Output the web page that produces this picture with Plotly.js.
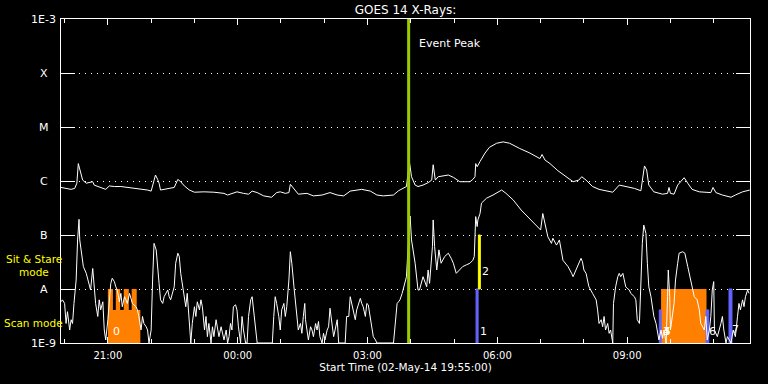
<!DOCTYPE html>
<html>
<head>
<meta charset="utf-8">
<script src="https://cdn.plot.ly/plotly-3.0.1.min.js"></script>
<style>html,body{margin:0;padding:0;background:#000;}#chart{width:768px;height:384px;}</style>
</head>
<body>
<div id="chart"></div>
<script>
// ---- data (time = minutes after start, flux in W/m^2) ----
const START = '2014-05-02 19:55:00';
const END = '2014-05-03 11:50:18';
const EVENT_PEAK = '2014-05-03 03:57:00';

// GOES 14 long channel (1-8 A)
const longT = [0,7,14,19,22,24,27,30,35,41,44,46,55,62,67,74,83,92,106,120,125,128,131,134,136,138,145,157,162,166,171,178,185,198,212,226,231,
239,244,253,260,265,272,281,292,299,304,311,316,318,323,329,341,350,362,373,383,392,401,410,417,429,438,447,461,468,475,479,
483,486,491,495,502,509,514,516,519,523,537,544,553,567,571,574,575,577,581,588,594,604,613,622,636,650,664,667,671,678,689,701,710,
718,722,728,737,746,755,765,774,783,795,804,806,809,812,815,822,834,841,843,845,850,855,859,864,869,875,885,901,904,908,917,929,935,945,955];
const longF = [7.6e-7,7.3e-7,7.0e-7,7.3e-7,9.1e-7,2.1e-6,1.5e-6,1.04e-6,9.1e-7,9.3e-7,9.7e-7,8.4e-7,7.6e-7,7.0e-7,8.1e-7,7.9e-7,7.9e-7,7.6e-7,7.3e-7,6.8e-7,6.5e-7,9.1e-7,1.29e-6,1.07e-6,9.1e-7,6.8e-7,7.0e-7,7.6e-7,1.07e-6,9.7e-7,8.1e-7,6.8e-7,6.2e-7,6.3e-7,6.2e-7,5.9e-7,5.5e-7,
5.9e-7,6.3e-7,5.9e-7,5.7e-7,6.5e-7,6.1e-7,5.3e-7,5.0e-7,6.1e-7,6.3e-7,5.9e-7,6.1e-7,8.7e-7,7.0e-7,5.7e-7,5.9e-7,5.3e-7,5.5e-7,6.1e-7,5.5e-7,5.3e-7,6.5e-7,6.8e-7,7.0e-7,6.5e-7,5.5e-7,5.3e-7,5.5e-7,6.6e-7,7.3e-7,7.9e-7,
2.3e-6,1.2e-6,8.4e-7,7.9e-7,8.4e-7,9.3e-7,1.04e-6,2.0e-6,1.04e-6,1.2e-6,1.29e-6,1.17e-6,9.7e-7,9.7e-7,1.07e-6,1.2e-6,2.1e-6,1.84e-6,2.3e-6,3.3e-6,4.2e-6,5.0e-6,5.3e-6,5.0e-6,4.0e-6,3.3e-6,2.6e-6,3.1e-6,2.45e-6,2.1e-6,1.55e-6,1.2e-6,9.7e-7,
1.04e-6,1.2e-6,1.04e-6,7.9e-7,7.0e-7,6.6e-7,6.2e-7,8.4e-7,7.9e-7,7.3e-7,6.6e-7,1.04e-6,1.9e-6,1.6e-6,8.4e-7,6.3e-7,5.7e-7,5.9e-7,7.6e-7,5.9e-7,5.7e-7,8.4e-7,9.7e-7,1.15e-6,9.1e-7,7.0e-7,6.3e-7,6.1e-7,7.6e-7,6.1e-7,5.5e-7,5.0e-7,5.5e-7,6.3e-7,6.8e-7];

// GOES 14 short channel (0.5-4 A)
const shortT = [0,2,5,7,9,12,14,16,18,21,23,25,26,29,31,35,39,41,44,46,48,51,53,55,58,60,62,65,67,69,71,74,76,78,81,83,85,88,90,92,95,97,99,104,106,108,111,113,115,118,120,122,125,127,129,132,134,136,138,141,143,145,148,150,152,157,159,162,164,166,168,171,173,175,178,180,182,185,187,189,192,194,196,199,201,203,205,208,210,212,215,217,219,222,226,229,231,233,235,237,
239,242,244,246,249,251,253,256,258,260,263,265,267,269,272,281,293,295,297,299,302,304,306,309,311,313,316,318,320,323,325,327,329,332,334,336,338,339,341,343,346,348,350,353,355,357,359,362,364,366,369,371,373,376,378,380,383,385,394,396,399,401,403,406,408,410,413,415,417,419,422,424,426,429,431,433,436,438,461,464,466,468,470,473,475,477,479,
480,482,484,486,491,495,497,502,507,509,511,515,516,518,521,524,525,527,532,537,541,544,548,553,557,562,567,571,573,575,577,578,581,583,590,599,611,617,627,638,650,661,665,668,671,675,680,682,687,691,696,703,708,710,714,
719,721,723,725,728,732,737,742,744,746,749,751,753,755,758,760,762,765,766,769,772,774,776,779,781,783,785,788,790,795,797,799,802,804,806,808,811,813,815,818,820,822,825,827,829,832,834,836,839,841,842,844,845,850,852,855,857,862,865,869,873,878,882,885,887,892,894,896,899,901,903,905,906,910,915,917,919,922,924,929,932,935,938,940,942,945,947,949,952,954];
const shortF = [5.8e-9,6.3e-9,5.4e-9,2.3e-9,3.8e-9,1.74e-9,2.7e-9,2.3e-9,5.4e-9,1.47e-8,8.1e-8,1.95e-7,8.1e-8,4.0e-8,2.6e-8,1.95e-8,1.1e-8,9.6e-9,2.4e-8,1.1e-8,5.4e-9,3.1e-9,6.3e-9,4.1e-9,5.8e-9,1.74e-9,1.14e-9,2.7e-9,7.2e-9,1.27e-8,1.58e-8,1.37e-8,1.1e-8,9.6e-9,5.8e-9,8.3e-9,4.7e-9,7.2e-9,6.3e-9,5.4e-9,8.3e-9,6.7e-9,5.4e-9,4.7e-9,4.1e-9,3.1e-9,1.74e-9,3.1e-9,2.3e-9,2.0e-9,1.74e-9,1.0e-9,1.74e-9,1.47e-8,7.0e-8,5.3e-8,3.0e-8,1.27e-8,6.3e-9,5.4e-9,7.2e-9,8.3e-9,9.6e-9,7.2e-9,6.3e-9,1.1e-8,3.0e-8,4.6e-8,4.0e-8,1.95e-8,1.27e-8,6.3e-9,4.7e-9,8.3e-9,1.74e-9,1.0e-9,2.3e-9,4.7e-9,3.1e-9,5.8e-9,4.1e-9,6.3e-9,4.7e-9,1.74e-9,3.1e-9,1.31e-9,2.3e-9,1.0e-9,2.0e-9,1.31e-9,2.7e-9,1.74e-9,1.31e-9,2.0e-9,1.14e-9,1.74e-9,1.0e-9,1.31e-9,2.3e-9,1.74e-9,
4.7e-9,5.1e-9,4.1e-9,2.0e-9,1.0e-9,3.1e-9,1.74e-9,1.0e-9,1.0e-9,3.1e-9,6.3e-9,7.2e-9,4.1e-9,2.3e-9,1.0e-9,1.0e-9,1.0e-9,3.1e-9,7.2e-9,5.4e-9,3.1e-9,1.74e-9,4.1e-9,5.4e-9,3.1e-9,4.7e-9,1.47e-8,4.9e-8,3.0e-8,1.1e-8,6.3e-9,3.1e-9,1.74e-9,2.3e-9,1.51e-9,3.1e-9,5.4e-9,2.7e-9,1.74e-9,1.14e-9,2.0e-9,1.74e-9,1.31e-9,2.3e-9,1.74e-9,2.5e-9,1.31e-9,1.0e-9,1.51e-9,1.14e-9,1.74e-9,2.0e-9,4.4e-9,2.3e-9,1.31e-9,1.74e-9,2.7e-9,1.0e-9,1.0e-9,3.1e-9,3.1e-9,7.2e-9,5.4e-9,3.1e-9,2.7e-9,4.1e-9,5.4e-9,6.7e-9,5.4e-9,4.7e-9,3.1e-9,5.4e-9,5.1e-9,2.7e-9,1.74e-9,1.31e-9,1.14e-9,1.0e-9,1.0e-9,3.1e-9,5.4e-9,5.8e-9,6.3e-9,8.3e-9,1.1e-8,1.37e-8,1.69e-8,
3.0e-8,8.1e-8,2.25e-7,8.1e-8,3.0e-8,9.6e-9,9.6e-9,1.69e-8,1.1e-8,2.25e-8,1.27e-8,6.1e-8,1.9e-7,6.1e-8,2.25e-8,5.3e-8,4.0e-8,3.0e-8,4.0e-8,4.6e-8,3.7e-8,3.0e-8,1.95e-8,2.25e-8,2.6e-8,2.8e-8,3.0e-8,3.4e-8,4.0e-8,2.19e-7,1.43e-7,1.9e-7,2.5e-7,3.9e-7,4.8e-7,5.5e-7,6.8e-7,5.9e-7,4.45e-7,2.9e-7,2.0e-7,1.43e-7,1.24e-7,2.5e-7,1.64e-7,9.3e-8,7.0e-8,8.7e-8,6.5e-8,8.1e-8,3.4e-8,2.6e-8,1.95e-8,1.69e-8,2.25e-8,
3.2e-8,3.7e-8,3.2e-8,2.25e-8,1.95e-8,1.1e-8,8.3e-9,6.3e-9,4.1e-9,2.3e-9,2.7e-9,2.0e-9,3.1e-9,1.74e-9,2.3e-9,1.51e-9,1.74e-9,1.0e-9,5.4e-9,1.1e-8,1.69e-8,1.95e-8,1.69e-8,1.95e-8,1.47e-8,1.1e-8,1.03e-8,9.6e-9,8.3e-9,7.2e-9,6.3e-9,2.7e-9,2.3e-9,1.69e-8,7.0e-8,1.53e-7,1.07e-7,3.0e-8,1.1e-8,7.2e-9,4.7e-9,3.1e-9,2.3e-9,1.74e-9,1.14e-9,1.74e-9,1.22e-9,1.74e-9,1.0e-9,7.2e-9,2.25e-8,7.2e-9,1.74e-9,5.4e-9,1.47e-8,3.0e-8,4.6e-8,4.9e-8,4.6e-8,2.6e-8,1.47e-8,7.2e-9,6.3e-9,4.1e-9,2.3e-9,1.74e-9,3.1e-9,1.14e-9,1.74e-9,3.1e-9,9.6e-9,1.37e-8,1.74e-9,1.31e-9,2.3e-9,3.1e-9,1.74e-9,1.0e-9,1.31e-9,1.0e-9,1.74e-9,1.31e-9,3.1e-9,5.4e-9,4.1e-9,6.3e-9,4.7e-9,7.2e-9,9.6e-9,8.3e-9];

// observation markers (minutes after start; flux levels of bar base/top)
const scanStart = [65,72,76,82,87,94,98,105,832];
const scanEnd   = [72,76,82,87,94,98,105,110,895];
const scanTop   = [1e-8,4.1e-9,1e-8,4.1e-9,1e-8,4.1e-9,1e-8,4.1e-9,1e-8];
const blueStart = [575.5,829.5,894.4,926.2];
const blueEnd   = [578.3,832.1,898.1,930.3];
const blueTop   = [1e-8,4.1e-9,4.1e-9,1e-8];
const stareStart = [578.7];
const stareEnd   = [581.4];
const obsLabels = ['0','1','2','3','4','5','6','7'];
const obsLabelT = [69,578.6,581.4,831.5,832.5,833.5,896,928];
const obsLabelF = [1.6e-9,1.65e-9,2.07e-8,1.6e-9,1.6e-9,1.6e-9,1.65e-9,1.75e-9];

// y axis classes
const yTickVals = [1e-9,1e-8,1e-7,1e-6,1e-5,1e-4,1e-3];
const yTickText = ['1E-9','A','B','C','M','X','1E-3'];

// ---- helpers ----
const t0 = Date.UTC(2014,4,2,19,55,0);
function tm(m){ return new Date(t0 + m*60000).toISOString().replace('T',' ').slice(0,19); }

const traces = [];
// contiguous scan segments merged into one stepped polygon each
function stepPolys(starts, ends, tops, base, color, lw){
  let i = 0;
  while(i < starts.length){
    const xs = [tm(starts[i])], ys = [base];
    let j = i;
    while(true){
      xs.push(tm(starts[j]), tm(ends[j])); ys.push(tops[j], tops[j]);
      if(j+1 < starts.length && starts[j+1] === ends[j]) j++; else break;
    }
    xs.push(tm(ends[j]), tm(starts[i])); ys.push(base, base);
    traces.push({type:'scatter',mode:'lines',x:xs,y:ys,fill:'toself',fillcolor:color,
      line:{width:lw,color:color},hoverinfo:'skip'});
    i = j+1;
  }
}
stepPolys(scanStart, scanEnd, scanTop, 1e-9, '#ff8000', 0);
stepPolys(blueStart, blueEnd, blueTop, 1e-9, '#6464ff', 1);
stepPolys(stareStart, stareEnd, [1e-7], 1e-8, '#ffff00', 1);

traces.push({type:'scatter',mode:'lines',x:longT.map(tm),y:longF,line:{color:'#ffffff',width:1},hoverinfo:'skip'});
traces.push({type:'scatter',mode:'lines',x:shortT.map(tm),y:shortF,line:{color:'#ffffff',width:1},hoverinfo:'skip'});
traces.push({type:'scatter',mode:'lines',x:[EVENT_PEAK,EVENT_PEAK],y:[1e-9,1e-3],line:{color:'#99cc00',width:3},hoverinfo:'skip'});

const FONT = 'DejaVu Sans';
const annotations = [];
yTickVals.forEach((v,i)=>annotations.push({xref:'paper',yref:'y',x:-0.0247,y:Math.log10(v),text:yTickText[i],
  showarrow:false,xanchor:'center',yanchor:'middle',font:{family:FONT,size:11,color:'#ffffff'}}));
annotations.push({xref:'paper',yref:'y',x:-0.0392,y:-7.45,text:'Sit & Stare',showarrow:false,xanchor:'center',yanchor:'middle',font:{family:FONT,size:10.5,color:'#ffff00'}});
annotations.push({xref:'paper',yref:'y',x:-0.0392,y:-7.68,text:'mode',showarrow:false,xanchor:'center',yanchor:'middle',font:{family:FONT,size:10.5,color:'#ffff00'}});
annotations.push({xref:'paper',yref:'y',x:-0.0392,y:-8.63,text:'Scan mode',showarrow:false,xanchor:'center',yanchor:'middle',font:{family:FONT,size:10.5,color:'#ffff00'}});
annotations.push({xref:'x',yref:'y',x:EVENT_PEAK,y:-3.45,text:'Event Peak',showarrow:false,xanchor:'left',yanchor:'middle',xshift:8,font:{family:FONT,size:11,color:'#ffffff'}});
obsLabels.forEach((s,i)=>annotations.push({xref:'x',yref:'y',x:tm(obsLabelT[i]),y:Math.log10(obsLabelF[i]),text:s,showarrow:false,
  xanchor:'left',yanchor:'middle',font:{family:FONT,size:11,color:'#ffffff'}}));

const layout = {
  width:768,height:384,
  paper_bgcolor:'#000000',plot_bgcolor:'#000000',
  margin:{l:61,r:18,t:19,b:41},
  showlegend:false,hovermode:false,
  title:{text:'GOES 14 X-Rays:',xref:'paper',x:0.5,xanchor:'center',yref:'container',y:0.974,yanchor:'middle',font:{family:FONT,size:12,color:'#ffffff'}},
  xaxis:{type:'date',range:[START,END],tick0:'2014-05-02 21:00:00',dtick:3*3600000,tickformat:'%H:%M',
    ticks:'inside',ticklen:6,tickcolor:'#ffffff',tickwidth:1,mirror:'ticks',showline:true,linecolor:'#ffffff',linewidth:1,
    showgrid:false,zeroline:false,tickfont:{family:FONT,size:10,color:'#ffffff'},ticklabelstandoff:3,
    minor:{dtick:3600000,ticks:'inside',ticklen:4,tickcolor:'#ffffff',showgrid:false},
    title:{text:'Start Time (02-May-14 19:55:00)',font:{family:FONT,size:10.5,color:'#ffffff'},standoff:2}},
  yaxis:{type:'log',range:[-9,-3],tickvals:yTickVals,showticklabels:false,
    ticks:'inside',ticklen:14,tickcolor:'#ffffff',tickwidth:1,mirror:'ticks',showline:true,linecolor:'#ffffff',linewidth:1,
    showgrid:true,gridcolor:'#ffffff',gridwidth:1,griddash:'1px,5px',zeroline:false},
  annotations:annotations
};
Plotly.newPlot('chart',traces,layout,{staticPlot:true,displayModeBar:false});
</script>
</body>
</html>
